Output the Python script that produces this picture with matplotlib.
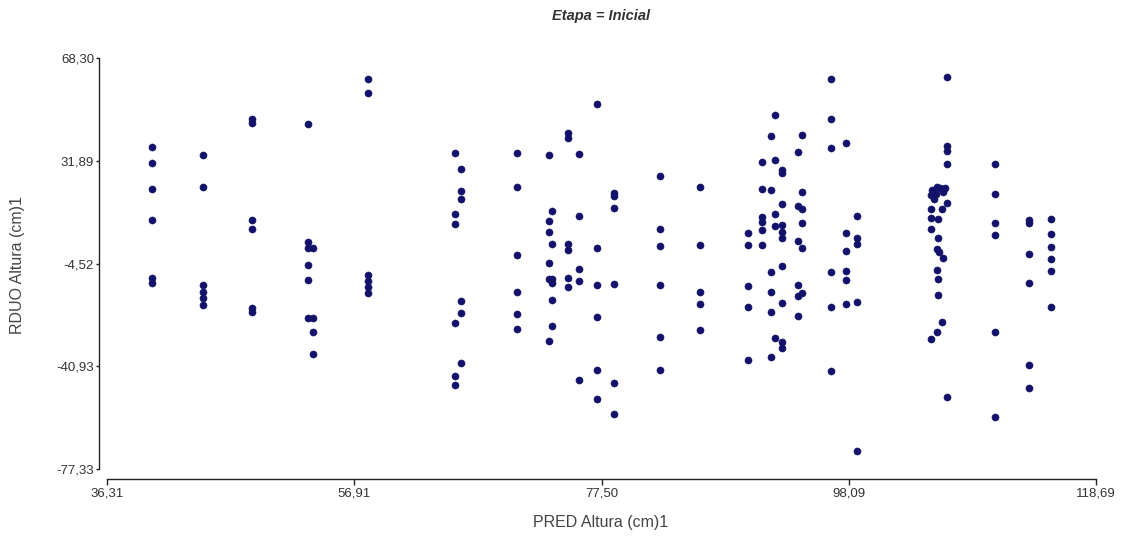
import matplotlib
matplotlib.use("Agg")
import matplotlib.pyplot as plt

# ---- data ----
pred_altura = [
    40.03, 40.03, 40.03, 40.03, 40.03, 40.03,
    44.33, 44.33, 44.33, 44.33, 44.33, 44.33,
    48.41, 48.41, 48.41, 48.41, 48.41, 48.41,
    53.08, 53.08, 53.08, 53.08, 53.08, 53.08,
    53.47, 53.47, 53.47, 53.47,
    58.08, 58.08, 58.08, 58.08, 58.08, 58.08,
    65.30, 65.30, 65.30, 65.30, 65.30, 65.30,
    65.80, 65.80, 65.80, 65.80, 65.80, 65.80,
    70.49, 70.49, 70.49, 70.49, 70.49, 70.49,
    73.13, 73.13, 73.13, 73.13, 73.13, 73.13,
    73.40, 73.40, 73.40, 73.40, 73.40, 73.40,
    74.69, 74.69, 74.69, 74.69, 74.69, 74.69,
    75.65, 75.65, 75.65, 75.65, 75.65,
    77.10, 77.10, 77.10, 77.10, 77.10, 77.10,
    78.54, 78.54, 78.54, 78.54, 78.54, 78.54,
    82.37, 82.37, 82.37, 82.37, 82.37, 82.37,
    85.71, 85.71, 85.71, 85.71, 85.71,
    89.73, 89.73, 89.73, 89.73, 89.73,
    90.87, 90.87, 90.87, 90.87, 90.87, 90.87,
    91.60, 91.60, 91.60, 91.60, 91.60, 91.60,
    91.98, 91.98, 91.98, 91.98, 91.98,
    92.51, 92.51, 92.51, 92.51, 92.51,
    92.56, 92.56, 92.56, 92.56, 92.56,
    93.90, 93.90, 93.90, 93.90, 93.90, 93.90,
    94.18, 94.18, 94.18, 94.18, 94.18, 94.18,
    96.59, 96.59, 96.59, 96.59, 96.59, 96.59,
    97.89, 97.89, 97.89, 97.89, 97.89, 97.89,
    98.76, 98.76, 98.76, 98.76, 98.76,
    106.30, 106.30, 106.30, 106.30, 106.30,
    105.06, 105.42, 105.70, 106.11, 104.95, 105.34, 105.93, 105.20,
    106.25, 105.89, 104.92, 104.92, 105.56, 104.92, 105.56, 105.48,
    105.65, 105.93, 105.42, 105.56, 105.56, 105.89, 105.42, 104.92,
    110.28, 110.28, 110.28, 110.28, 110.28, 110.28,
    113.14, 113.14, 113.14, 113.14, 113.14, 113.14,
    114.94, 114.94, 114.94, 114.94, 114.94, 114.94,
]

rduo_altura = [
    36.76, 31.09, 21.88, 10.79, -9.66, -11.43,
    33.82, 22.48, -12.14, -14.45, -16.75, -19.23,
    46.68, 45.27, 10.89, 7.70, -20.29, -21.71,
    44.91, 3.20, 0.87, -5.05, -10.37, -23.83,
    0.87, -23.83, -28.69, -36.70,
    60.86, 56.00, -8.60, -10.72, -12.85, -14.97,
    34.74, 12.91, 9.58, -25.50, -44.28, -47.57,
    29.07, 21.28, 18.34, -17.81, -21.95, -39.89,
    34.74, 22.48, -1.62, -14.73, -22.42, -27.73,
    33.82, 10.65, 6.64, -4.24, -10.01, -31.98,
    13.98, 2.49, -10.01, -11.43, -17.45, -26.56,
    41.62, 40.06, 2.28, 0.16, -9.55, -12.74,
    34.28, 12.31, -6.58, -10.72, -45.80,
    52.11, 1.08, -12.14, -23.37, -42.26, -52.54,
    20.57, 19.40, 15.25, -11.68, -46.97, -57.85,
    26.59, 7.81, 1.58, -12.25, -30.67, -42.26,
    22.48, 2.04, -14.73, -18.98, -28.09,
    6.18, 2.04, -12.39, -19.83, -38.72,
    31.34, 21.88, 12.06, 10.29, 7.35, 2.04,
    40.55, 21.52, -7.64, -14.73, -21.81, -37.55,
    48.00, 32.16, 12.91, 8.87, -30.81,
    16.67, 6.75, 4.41, -5.41, -32.44,
    28.61, 27.44, 9.12, -18.62, -34.57,
    35.10, 15.96, 3.56, -12.14, -15.93, -23.02,
    41.01, 20.92, 14.79, 9.72, 1.08, -15.08,
    60.75, 46.68, 36.30, -7.64, -20.04, -42.61,
    38.29, 6.18, -0.09, -7.18, -10.37, -18.98,
    12.21, 4.41, 2.28, -18.06, -70.96,
    61.67, 37.22, 35.45, 30.63, -51.72,
    21.52, 22.69, 22.23, 22.23, 19.76, 20.00, 20.81, 18.34,
    16.81, 14.79, 14.79, 11.50, 11.25, 7.70, 4.62, 0.62,
    -0.55, -2.68, -6.83, -10.01, -15.68, -25.14, -28.69, -31.27,
    30.63, 20.00, 9.72, 5.58, -28.69, -58.81,
    10.89, 9.72, -1.15, -11.43, -40.49, -48.53,
    11.25, 5.93, 1.22, -2.93, -7.18, -20.04,
]

x_ticks = [36.31, 56.91, 77.50, 98.09, 118.69]
x_tick_labels = ["36,31", "56,91", "77,50", "98,09", "118,69"]
y_ticks = [-77.33, -40.93, -4.52, 31.89, 68.30]
y_tick_labels = ["-77,33", "-40,93", "-4,52", "31,89", "68,30"]

title_text = "Etapa = Inicial"
x_label = "PRED Altura (cm)1"
y_label = "RDUO Altura (cm)1"

# ---- figure ----
plt.rcParams["font.family"] = ["Liberation Sans", "DejaVu Sans"]
W, H = 1125, 537
fig = plt.figure(figsize=(W / 100, H / 100), dpi=100)
fig.patch.set_facecolor("white")

ax = fig.add_axes([107 / W, (H - 469) / H, (1096 - 107) / W, (469 - 58) / H])
ax.set_facecolor("white")

ax.scatter(pred_altura, rduo_altura, s=26, color="#12126b",
           edgecolors="#12126b", linewidths=0.4, clip_on=False, zorder=3)

ax.set_xlim(x_ticks[0], x_ticks[-1])
ax.set_ylim(y_ticks[0], y_ticks[-1])

ax.set_xticks(x_ticks)
ax.set_xticklabels(x_tick_labels)
ax.set_yticks(y_ticks)
ax.set_yticklabels(y_tick_labels)

for side in ("top", "right"):
    ax.spines[side].set_visible(False)
ax.spines["left"].set_position(("outward", 5.8))
ax.spines["bottom"].set_position(("outward", 7.2))
for side in ("left", "bottom"):
    ax.spines[side].set_color("#222222")
    ax.spines[side].set_linewidth(1.0)

ax.tick_params(axis="x", direction="out", length=4, width=1.0,
               colors="#222222", labelsize=9.5, pad=2, labelcolor="#333333")
ax.tick_params(axis="y", direction="out", length=2.5, width=1.0,
               colors="#222222", labelsize=9.5, pad=1, labelcolor="#333333")

fig.text(601 / W, 1 - 16 / H, title_text, ha="center", va="center",
         fontsize=10.5, fontweight="bold", fontstyle="italic", color="#333333")
fig.text(601 / W, 1 - 522 / H, x_label, ha="center", va="center",
         fontsize=11.5, color="#444444")
fig.text(18 / W, 1 - 265 / H, y_label, ha="center", va="center",
         rotation=90, fontsize=11.5, color="#444444")

fig.savefig("out.png", dpi=100, facecolor="white")
